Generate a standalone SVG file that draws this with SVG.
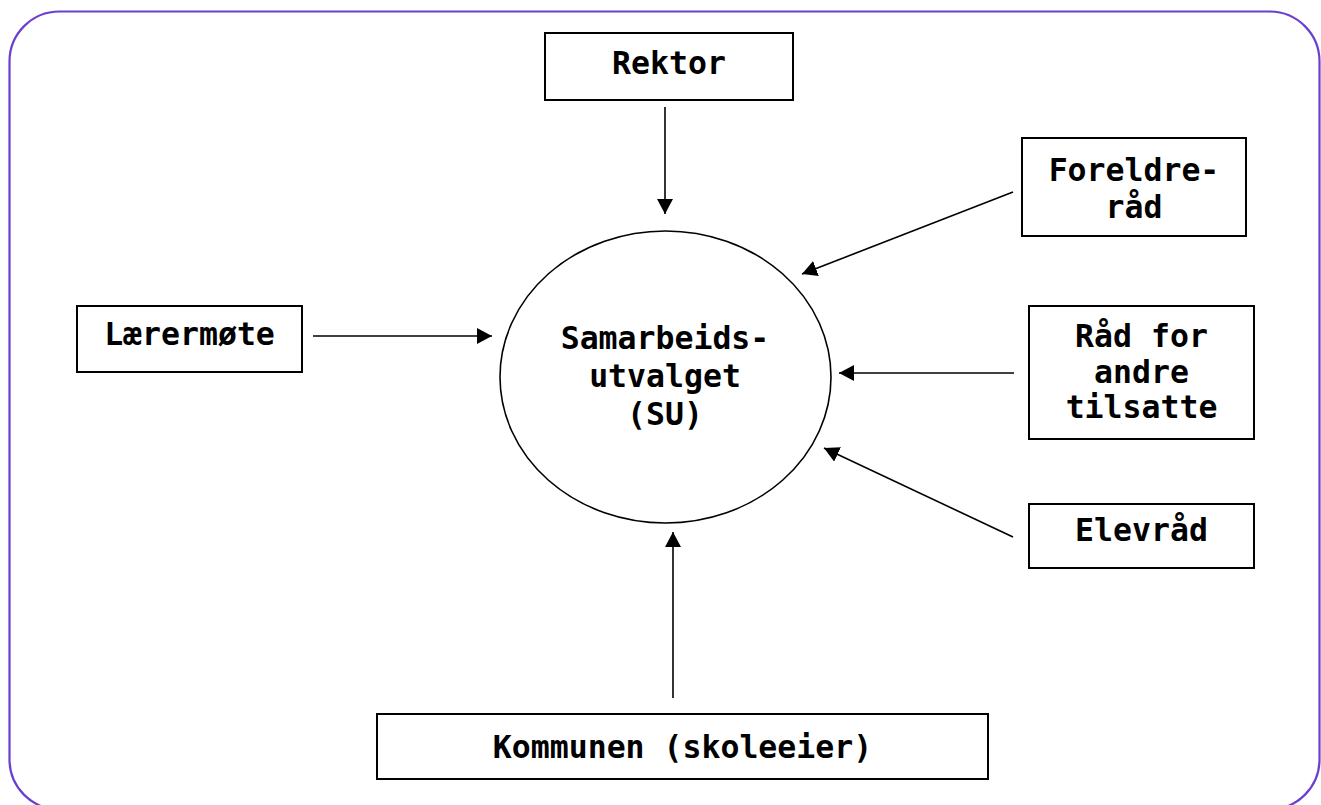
<svg xmlns="http://www.w3.org/2000/svg" width="1321" height="805" viewBox="0 0 1321 805">
<style>
.box{fill:#fff;stroke:#000;stroke-width:2}
.t{font-family:"DejaVu Sans Mono","Liberation Mono",monospace;font-weight:bold;font-size:31.5px;fill:#000;text-anchor:middle}
.c{stroke:#000;stroke-width:1.6;fill:none;marker-end:url(#ah)}
</style>
<defs>
<marker id="ah" markerUnits="userSpaceOnUse" markerWidth="16" markerHeight="16" refX="15" refY="8" orient="auto">
<path d="M0,0 L15,8 L0,16 Z" fill="#000"/>
</marker>
</defs>
<rect x="9.5" y="11.5" width="1310" height="798" rx="50" ry="50" fill="none" stroke="#6a3fd0" stroke-width="2.2"/>
<g id="connectors">
<line class="c" x1="665" y1="107" x2="665" y2="214"/>
<line class="c" x1="1013" y1="192" x2="802" y2="274"/>
<line class="c" x1="313" y1="336" x2="492" y2="336"/>
<line class="c" x1="1014" y1="373" x2="839" y2="373"/>
<line class="c" x1="1013" y1="537" x2="824" y2="448"/>
<line class="c" x1="673" y1="698" x2="673" y2="532"/>
</g>
<g id="su">
<ellipse cx="665.5" cy="377" rx="165.5" ry="146" fill="#fff" stroke="#000" stroke-width="1.6"/>
<text class="t" x="665" y="349">Samarbeids-</text>
<text class="t" x="665" y="387">utvalget</text>
<text class="t" x="665" y="425">(SU)</text>
</g>
<g id="rektor">
<rect class="box" x="545" y="33" width="248" height="67"/>
<text class="t" x="669" y="74">Rektor</text>
</g>
<g id="foreldrerad">
<rect class="box" x="1022" y="138" width="224" height="98"/>
<text class="t" x="1134" y="181">Foreldre-</text>
<text class="t" x="1134" y="218">råd</text>
</g>
<g id="larermote">
<rect class="box" x="77" y="306" width="225" height="66"/>
<text class="t" x="189.5" y="345">Lærermøte</text>
</g>
<g id="radandre">
<rect class="box" x="1029" y="306" width="225" height="133"/>
<text class="t" x="1141.5" y="347">Råd for</text>
<text class="t" x="1141.5" y="383">andre</text>
<text class="t" x="1141.5" y="418">tilsatte</text>
</g>
<g id="elevrad">
<rect class="box" x="1029" y="504" width="225" height="64"/>
<text class="t" x="1141.5" y="541">Elevråd</text>
</g>
<g id="kommunen">
<rect class="box" x="377" y="714" width="611" height="65"/>
<text class="t" x="682.5" y="758">Kommunen (skoleeier)</text>
</g>
</svg>
